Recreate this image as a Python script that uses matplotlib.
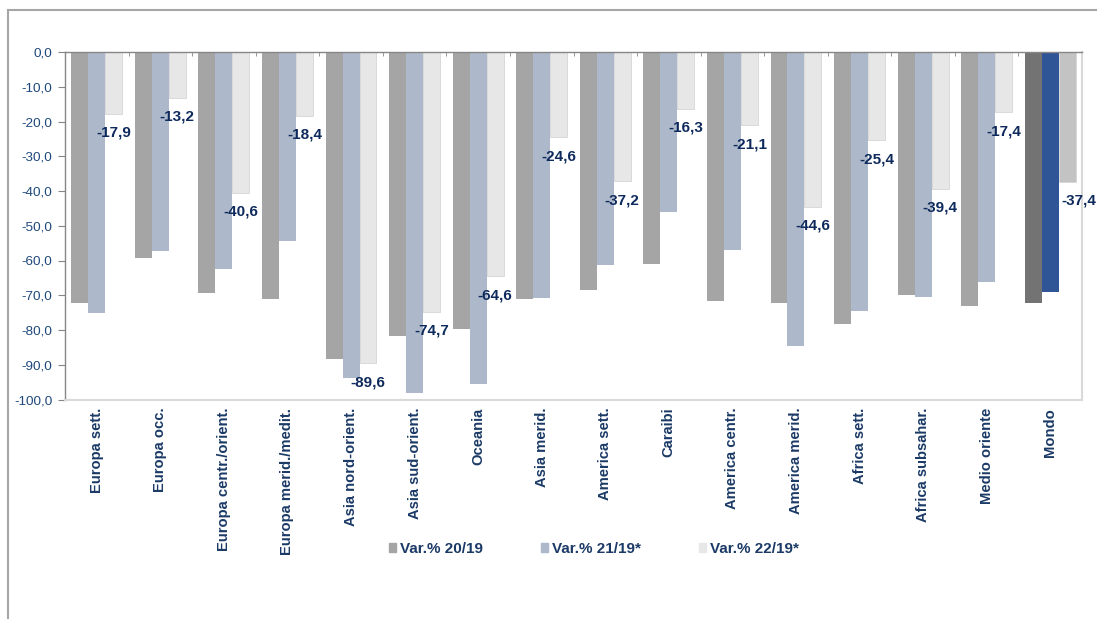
import matplotlib
matplotlib.use("Agg")
import matplotlib.pyplot as plt
import numpy as np
from matplotlib.lines import Line2D
from matplotlib.ticker import FuncFormatter, FixedLocator

plt.rcParams["font.family"] = ["Liberation Sans", "DejaVu Sans"]

# dati
categorie = ["Europa sett.", "Europa occ.", "Europa centr./orient.", "Europa merid./medit.",
             "Asia nord-orient.", "Asia sud-orient.", "Oceania", "Asia merid.",
             "America sett.", "Caraibi", "America centr.", "America merid.",
             "Africa sett.", "Africa subsahar.", "Medio oriente", "Mondo"]
var_20_19 = [-72.3, -59.4, -69.3, -71.1, -88.4, -81.6, -79.6, -71.2,
             -68.4, -61.0, -71.7, -72.2, -78.3, -69.9, -73.1, -72.3]
var_21_19 = [-75.0, -57.3, -62.4, -54.4, -93.7, -98.0, -95.6, -70.9,
             -61.3, -46.1, -56.9, -84.6, -74.4, -70.4, -66.3, -69.1]
var_22_19 = [-17.9, -13.2, -40.6, -18.4, -89.6, -74.7, -64.6, -24.6,
             -37.2, -16.3, -21.1, -44.6, -25.4, -39.4, -17.4, -37.4]
serie = ["Var.% 20/19", "Var.% 21/19*", "Var.% 22/19*"]

# colori (ultimo gruppo = Mondo, evidenziato)
col_20 = ["#A5A5A5"] * 15 + ["#737373"]
col_21 = ["#ADB9CA"] * 15 + ["#2F5597"]
col_22 = ["#E7E7E7"] * 15 + ["#C3C3C3"]
navy = "#1B3A66"
label_navy = "#0E2A5C"

fig = plt.figure(figsize=(10.97, 6.19), dpi=100)
ax = fig.add_axes([65 / 1097, 1 - 399.5 / 619, (1082 - 65) / 1097, (399.5 - 52) / 619])

x = np.arange(len(categorie))
w = 0.267
ax.bar(x - w, var_20_19, w, color=col_20, label=serie[0])
ax.bar(x, var_21_19, w, color=col_21, label=serie[1])
ax.bar(x + w, var_22_19, w, color=col_22, edgecolor="#D6D6D6", linewidth=0.6, label=serie[2])

# etichette dati sulla serie 22/19
for i, v in enumerate(var_22_19):
    dx = 8.5 if i == len(var_22_19) - 1 else 0
    ax.annotate(f"{v:.1f}".replace(".", ","), (x[i] + w, v), xytext=(dx, -13.5),
                textcoords="offset points", ha="center", va="center",
                fontsize=11, fontweight="bold", color=label_navy)

ax.set_xlim(-0.5, len(categorie) - 0.5)
ax.set_ylim(-100, 0)
ax.set_yticks(np.arange(-100, 1, 10))
ax.yaxis.set_major_formatter(FuncFormatter(lambda v, p: f"{v:.1f}".replace(".", ",")))
ax.tick_params(axis="y", length=5, color="#868686", labelsize=9.7, labelcolor="#1F497D", pad=4)

ax.set_xticks(x)
ax.set_xticklabels(categorie, rotation=90, fontsize=10.6, fontweight="bold", color=navy)
ax.tick_params(axis="x", which="major", length=0, pad=6)
ax.xaxis.set_minor_locator(FixedLocator(np.arange(-0.5, len(categorie), 1.0)))
ax.tick_params(axis="x", which="minor", top=True, bottom=False, direction="in",
               length=3, color="#868686")

for s in ["left", "top"]:
    ax.spines[s].set_color("#868686")
    ax.spines[s].set_linewidth(1.0)
for s in ["right", "bottom"]:
    ax.spines[s].set_color("#D9D9D9")
    ax.spines[s].set_linewidth(1.5)

# legenda
h = [plt.Rectangle((0, 0), 1, 1, color=c) for c in ["#A5A5A5", "#ADB9CA", "#E7E7E7"]]
leg = fig.legend(h, serie, loc="center", bbox_to_anchor=(594 / 1097, 1 - 549 / 619), ncol=3,
                 frameon=False, handlelength=0.45, handleheight=0.45, handletextpad=0.25,
                 columnspacing=3.8, prop={"size": 11, "weight": "bold"})
for t in leg.get_texts():
    t.set_color(navy)

# cornice
fig.add_artist(Line2D([8 / 1097, 1], [1 - 10 / 619] * 2, color="#A6A6A6", lw=1.5))
fig.add_artist(Line2D([8 / 1097] * 2, [0, 1 - 10 / 619], color="#A6A6A6", lw=1.5))

fig.savefig("out.png", dpi=100)
